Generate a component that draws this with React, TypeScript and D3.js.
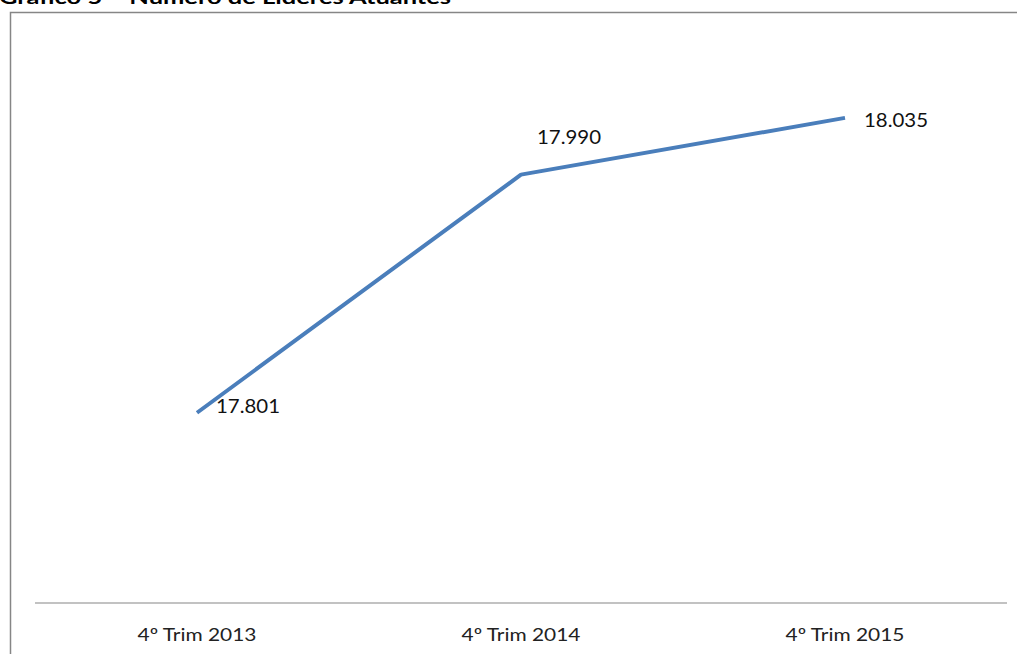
import React from 'react';
import * as d3 from 'd3';

const categories = ['4º Trim 2013', '4º Trim 2014', '4º Trim 2015'];
const values = [17801, 17990, 18035];
const valueLabels = ['17.801', '17.990', '18.035'];
const yDomain = [17650, 18100];

const width = 1017;
const height = 654;

const App: React.FC = () => {
  // plot area
  const left = 35;
  const right = 1007;
  const top = 36;
  const bottom = 603;

  const x = d3.scaleBand<string>()
    .domain(categories)
    .range([left, right]);

  const y = d3.scaleLinear()
    .domain(yDomain)
    .range([bottom, top]);

  const cx = (c: string) => (x(c) || 0) + x.bandwidth() / 2;

  const line = d3.line<number>()
    .x((_, i) => cx(categories[i]))
    .y(d => y(d));

  const font = 'Lato, "Noto Sans", sans-serif';

  // label offsets relative to the point (approximate Excel placement)
  const labelDx = [19, 16, 19];
  const labelDy = [0, -31, 9];

  return (
    <svg
      width={width}
      height={height}
      style={{ position: 'absolute', left: 0, top: 0, background: '#fff' }}
    >
      {/* title, cut at the top of the picture as in the source */}
      <text
        x={-1}
        y={4}
        fontFamily={font}
        fontWeight="bold"
        fontSize={19}
        textLength={452}
        lengthAdjust="spacingAndGlyphs"
        fill="#000"
      >
        Gráfico 5 – Número de Líderes Atuantes
      </text>

      {/* chart frame */}
      <path
        d={`M10.5,${height + 5} V12.5 H${width + 5}`}
        fill="none"
        stroke="#868686"
        strokeWidth={1.5}
      />

      {/* category axis */}
      <line x1={left} x2={right} y1={bottom} y2={bottom} stroke="#868686" strokeWidth={1.2} />

      {categories.map(c => (
        <text
          key={c}
          x={cx(c)}
          y={641}
          textAnchor="middle"
          fontFamily={font}
          fontSize={18}
          textLength={119}
          lengthAdjust="spacingAndGlyphs"
          fill="#222"
        >
          {c}
        </text>
      ))}

      <path
        d={line(values) || ''}
        fill="none"
        stroke="#4A7EBB"
        strokeWidth={4}
        strokeLinejoin="round"
      />

      {values.map((v, i) => (
        <text
          key={i}
          x={cx(categories[i]) + labelDx[i]}
          y={y(v) + labelDy[i]}
          fontFamily={font}
          fontSize={20}
          textLength={64}
          lengthAdjust="spacingAndGlyphs"
          fill="#111"
        >
          {valueLabels[i]}
        </text>
      ))}
    </svg>
  );
};

export default App;
